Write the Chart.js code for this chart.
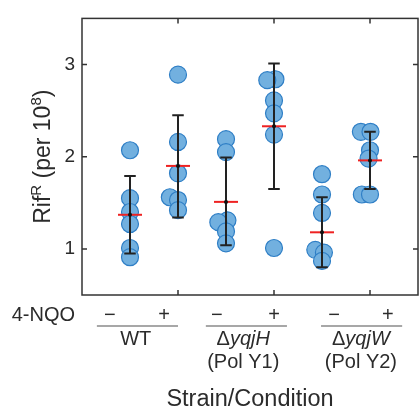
<!DOCTYPE html>
<html lang="en">
<head>
  <meta charset="UTF-8" />
  <title>Rif resistance by strain</title>
  <script src="https://cdn.jsdelivr.net/npm/chart.js"></script>
  <style>
    html, body { margin: 0; padding: 0; background: #fff; }
    #wrap { width: 419px; height: 411px; }
  </style>
</head>
<body>
<div id="wrap"><canvas id="chart" width="419" height="411"></canvas></div>
<script>
  // values, one array per strain/condition
  const wtMinus   = [2.07, 1.55, 1.40, 1.27, 1.01, 0.91];
  const wtPlus    = [2.89, 2.16, 1.82, 1.56, 1.53, 1.42];
  const yqjHMinus = [2.19, 2.05, 1.31, 1.29, 1.19, 1.06];
  const yqjHPlus  = [2.84, 2.83, 2.61, 2.47, 2.24, 1.01];
  const yqjWMinus = [1.81, 1.59, 1.39, 0.99, 0.96, 0.87];
  const yqjWPlus  = [2.27, 2.27, 2.07, 1.98, 1.59, 1.59];

  // horizontal jitter of each point (x units)
  const wtMinusJit   = [0, 0, 0, 0, 0, 0];
  const wtPlusJit    = [0, 0, 0, -0.17, 0, 0];
  const yqjHMinusJit = [0, 0, 0.03, -0.16, 0, 0];
  const yqjHPlusJit  = [0.03, -0.14, 0, 0, 0, 0];
  const yqjWMinusJit = [0, 0, 0, -0.14, 0.04, 0];
  const yqjWPlusJit  = [-0.19, 0.01, 0, -0.03, -0.17, 0];

  const means   = [1.37, 1.90, 1.51, 2.33, 1.18, 1.96];
  const errLow  = [0.95, 1.34, 1.04, 1.65, 0.80, 1.65];
  const errHigh = [1.79, 2.45, 1.99, 3.01, 1.56, 2.27];

  const strains    = ['WT', 'ΔyqjH', 'ΔyqjW'];
  const strainSub  = ['', '(Pol Y1)', '(Pol Y2)'];
  const treatments = ['−', '+'];
  const yTicks = [1, 2, 3];
  const xTicks = [2, 4, 6];

  const groups = [wtMinus, wtPlus, yqjHMinus, yqjHPlus, yqjWMinus, yqjWPlus];
  const jitters = [wtMinusJit, wtPlusJit, yqjHMinusJit, yqjHPlusJit, yqjWMinusJit, yqjWPlusJit];

  // annotation layout below the axis, in x units
  const signX = [[0.58, 1.71], [2.81, 4.0], [5.25, 6.37]];
  const lineX = [[0.31, 2.0], [2.58, 4.27], [4.98, 6.67]];
  const nameX = [1.12, 3.36, 5.81];

  const points = [];
  groups.forEach((g, i) => {
    g.forEach((v, j) => points.push({ x: i + 1 + jitters[i][j], y: v }));
  });

  const FONT = '"Liberation Sans", Arial, sans-serif';
  const INK = '#2b2b2b';

  const overlay = {
    id: 'overlay',
    afterDatasetsDraw(chart) {
      const ctx = chart.ctx, xs = chart.scales.x, ys = chart.scales.y;
      ctx.save();
      // mean lines
      ctx.strokeStyle = '#ee2222';
      ctx.lineWidth = 2;
      means.forEach((m, i) => {
        const y = ys.getPixelForValue(m);
        ctx.beginPath();
        ctx.moveTo(xs.getPixelForValue(i + 1 - 0.25), y);
        ctx.lineTo(xs.getPixelForValue(i + 1 + 0.25), y);
        ctx.stroke();
      });
      // error bars
      ctx.strokeStyle = '#222';
      ctx.lineWidth = 2;
      means.forEach((m, i) => {
        const x = xs.getPixelForValue(i + 1);
        const cw = xs.getPixelForValue(0.12) - xs.getPixelForValue(0);
        const yl = ys.getPixelForValue(errLow[i]);
        const yh = ys.getPixelForValue(errHigh[i]);
        ctx.beginPath();
        ctx.moveTo(x, yl); ctx.lineTo(x, yh);
        ctx.moveTo(x - cw, yl); ctx.lineTo(x + cw, yl);
        ctx.moveTo(x - cw, yh); ctx.lineTo(x + cw, yh);
        ctx.stroke();
        ctx.fillStyle = '#111';
        ctx.beginPath();
        ctx.arc(x, ys.getPixelForValue(m), 2, 0, Math.PI * 2);
        ctx.fill();
      });
      ctx.restore();
    },
    afterDraw(chart) {
      const ctx = chart.ctx, a = chart.chartArea;
      const xs = chart.scales.x, ys = chart.scales.y;
      ctx.save();
      // box with inward ticks
      ctx.strokeStyle = '#333';
      ctx.lineWidth = 1.5;
      ctx.strokeRect(a.left, a.top, a.right - a.left, a.bottom - a.top);
      ctx.beginPath();
      xTicks.forEach(t => {
        const x = xs.getPixelForValue(t);
        ctx.moveTo(x, a.bottom); ctx.lineTo(x, a.bottom - 5);
        ctx.moveTo(x, a.top); ctx.lineTo(x, a.top + 5);
      });
      yTicks.forEach(t => {
        const y = ys.getPixelForValue(t);
        ctx.moveTo(a.left, y); ctx.lineTo(a.left + 5, y);
        ctx.moveTo(a.right, y); ctx.lineTo(a.right - 5, y);
      });
      ctx.stroke();

      // y title: Rif^R (per 10^8)
      ctx.fillStyle = INK;
      ctx.translate(50, (a.top + a.bottom) / 2);
      ctx.rotate(-Math.PI / 2);
      const big = '23px ' + FONT, small = '15px ' + FONT;
      const parts = [['Rif', big, 0], ['R', small, -9], [' (per 10', big, 0], ['8', small, -9], [')', big, 0]];
      let w = 0;
      parts.forEach(p => { ctx.font = p[1]; w += ctx.measureText(p[0]).width; });
      let cx = -w / 2;
      ctx.textAlign = 'left';
      ctx.textBaseline = 'alphabetic';
      parts.forEach(p => {
        ctx.font = p[1];
        ctx.fillText(p[0], cx, p[2]);
        cx += ctx.measureText(p[0]).width;
      });
      ctx.setTransform(1, 0, 0, 1, 0, 0);

      // condition rows under the axis
      const lab = '20px ' + FONT, labI = 'italic 20px ' + FONT;
      ctx.fillStyle = INK;
      ctx.font = lab;
      ctx.textAlign = 'right';
      ctx.textBaseline = 'alphabetic';
      ctx.fillText('4-NQO', 75, 321);
      ctx.textAlign = 'center';
      signX.forEach(pair => {
        pair.forEach((sx, k) => ctx.fillText(treatments[k], xs.getPixelForValue(sx), 321));
      });
      ctx.strokeStyle = '#8a8a8a';
      ctx.lineWidth = 1.5;
      lineX.forEach(l => {
        ctx.beginPath();
        ctx.moveTo(xs.getPixelForValue(l[0]), 326);
        ctx.lineTo(xs.getPixelForValue(l[1]), 326);
        ctx.stroke();
      });
      strains.forEach((s, i) => {
        const cxp = xs.getPixelForValue(nameX[i]);
        if (s.startsWith('Δ')) {
          ctx.font = lab;
          const dw = ctx.measureText('Δ').width;
          ctx.font = labI;
          const iw = ctx.measureText(s.slice(1)).width;
          const x0 = cxp - (dw + iw) / 2;
          ctx.textAlign = 'left';
          ctx.font = lab;
          ctx.fillText('Δ', x0, 345);
          ctx.font = labI;
          ctx.fillText(s.slice(1), x0 + dw, 345);
        } else {
          ctx.textAlign = 'center';
          ctx.font = lab;
          ctx.fillText(s, cxp, 345);
        }
        ctx.textAlign = 'center';
        ctx.font = lab;
        if (strainSub[i]) ctx.fillText(strainSub[i], cxp, 368);
      });
      ctx.font = '23.5px ' + FONT;
      ctx.textAlign = 'center';
      ctx.fillText('Strain/Condition', (a.left + a.right) / 2, 406);
      ctx.restore();
    }
  };

  new Chart(document.getElementById('chart'), {
    type: 'scatter',
    data: {
      datasets: [{
        data: points,
        pointRadius: 8.5,
        pointHoverRadius: 8.5,
        pointBackgroundColor: '#72b0df',
        pointBorderColor: '#2f7fc6',
        pointBorderWidth: 1.2
      }]
    },
    options: {
      responsive: false,
      animation: false,
      events: [],
      layout: { autoPadding: false, padding: { left: 0, top: 15, right: 1, bottom: 116 } },
      plugins: { legend: { display: false }, tooltip: { enabled: false } },
      scales: {
        x: { type: 'linear', min: 0, max: 7, display: false },
        y: {
          min: 0.5, max: 3.5,
          grid: { display: false, drawTicks: false },
          border: { display: false },
          afterBuildTicks: s => { s.ticks = yTicks.map(v => ({ value: v })); },
          afterFit: s => { s.width = 82; },
          ticks: { padding: 7, color: INK, font: { family: FONT, size: 19 } }
        }
      }
    },
    plugins: [overlay]
  });
</script>
</body>
</html>
